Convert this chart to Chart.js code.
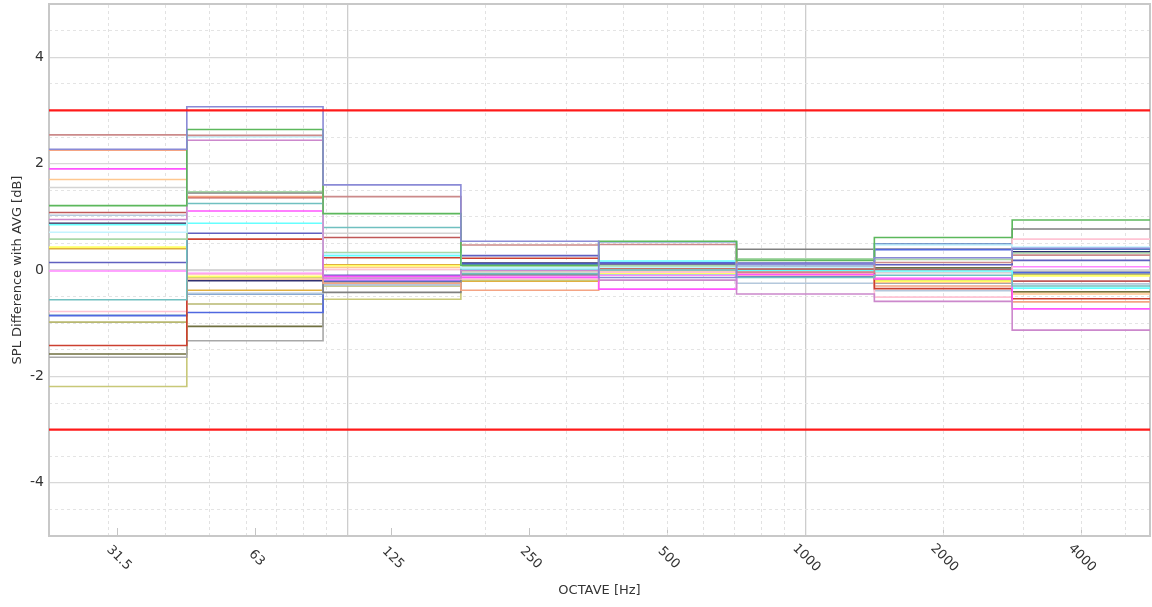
<!DOCTYPE html>
<html>
<head>
<meta charset="utf-8">
<script src="https://cdn.jsdelivr.net/npm/chart.js@4.4.1/dist/chart.umd.min.js"></script>
<style>
html,body{margin:0;padding:0;background:#ffffff;}
#wrap{width:1152px;height:607px;position:relative;}
</style>
</head>
<body>
<div id="wrap"><canvas id="c" width="1152" height="607"></canvas></div>
<script>
// ---- data ----
const bandCenters = [31.5, 63, 125, 250, 500, 1000, 2000, 4000];
const tickLabels = ['31.5', '63', '125', '250', '500', '1000', '2000', '4000'];
const yTickValues = [-4, -2, 0, 2, 4];
const xMajorGrid = [100, 1000];
const xMinorGrid = [30, 40, 50, 60, 70, 80, 90, 200, 300, 400, 500, 600, 700, 800, 900, 2000, 3000, 4000, 5000];
const limitValues = [3, -3];

const s01 = [2.27, 3.07, 1.60, 0.54, -0.14, 0.11, 0.23, 0.41];
const s02 = [1.21, 2.64, 1.06, 0.09, 0.54, 0.18, 0.61, 0.94];
const s03 = [2.54, 2.53, 1.38, 0.47, 0.48, -0.04, 0.14, 0.28];
const s04 = [0.95, 2.44, -0.15, -0.01, -0.19, -0.45, -0.59, -1.13];
const s05 = [0.71, 2.50, 0.30, 0.04, 0.05, 0.05, 0.47, 0.43];
const s06 = [0.58, 1.47, 0.33, 0.06, 0.08, 0.21, 0.20, 0.32];
const s07 = [-0.56, 1.25, 0.80, -0.07, 0.00, -0.14, -0.10, -0.30];
const s08 = [1.90, 1.11, -0.12, -0.14, -0.36, -0.08, -0.17, -0.73];
const s09 = [0.85, 0.88, 0.27, 0.02, 0.17, -0.01, -0.02, -0.34];
const s10 = [0.14, 0.69, -0.10, 0.27, 0.12, 0.13, 0.10, 0.18];
const s11 = [-1.42, 0.58, 0.23, 0.22, 0.03, 0.01, -0.35, -0.54];
const s12 = [1.55, -0.01, 0.69, -0.04, 0.00, -0.03, -0.05, -0.01];
const s13 = [-0.78, -0.08, 0.01, -0.17, -0.04, -0.05, -0.51, 0.58];
const s14 = [0.43, -0.12, 0.08, -0.03, -0.06, -0.07, -0.21, -0.11];
const s15 = [2.25, 1.38, -0.25, -0.38, 0.03, -0.02, -0.30, -0.60];
const s16 = [1.70, -0.17, 0.05, -0.06, -0.03, -0.09, -0.23, -0.45];
const s17 = [1.08, 1.36, 0.61, -0.05, -0.01, 0.03, 0.00, -0.21];
const s18 = [0.86, 1.45, -0.42, -0.09, 0.10, 0.39, 0.02, 0.77];
const s19 = [1.03, -0.44, -0.28, 0.03, -0.08, -0.25, -0.39, -0.26];
const s20 = [-0.02, -0.06, -0.18, -0.11, -0.10, -0.10, -0.15, 0.06];
const s21 = [-0.86, -0.80, -0.20, 0.11, 0.14, -0.11, 0.38, -0.05];
const s22 = [-0.98, -0.64, -0.30, -0.08, 0.06, -0.12, -0.19, -0.09];
const s23 = [-1.64, -1.33, -0.23, 0.00, 0.02, 0.00, -0.25, -0.03];
const s24 = [-2.19, -0.14, -0.55, -0.19, -0.05, -0.06, -0.20, -0.07];
const s25 = [-1.58, -1.06, -0.24, -0.02, 0.04, -0.13, 0.04, -0.41];
const s26 = [0.40, -0.38, 0.10, -0.21, -0.03, -0.04, -0.22, -0.41];
const s27 = [0.88, -0.20, -0.21, 0.13, 0.12, 0.05, 0.39, 0.34];
const s28 = [-0.85, -0.45, -0.18, 0.08, 0.53, 0.10, 0.49, 0.39];

const seriesValues = [s01, s02, s03, s04, s05, s06, s07, s08, s09, s10, s11, s12, s13, s14,
  s15, s16, s17, s18, s19, s20, s21, s22, s23, s24, s25, s26, s27, s28];

// ---- styles ----
const seriesColors = [
  '#8a8ad6', '#5cb85c', '#cc8a8a', '#cc88cc', '#c4f4ff', '#a8d8a8', '#70c0c0', '#ff55ff',
  '#66ffff', '#6060c0', '#cc4030', '#d4d4d4', '#ffc4d4', '#ffff66', '#f4a484', '#ffc890',
  '#c05858', '#808080', '#b4c8dc', '#ff88ff', '#5068e0', '#b8b870', '#a8a8a8', '#c8c878',
  '#707040', '#e0b040', '#303070', '#5080c0'
];

const xMin = bandCenters[0] / Math.SQRT2;
const xMax = bandCenters[bandCenters.length - 1] * Math.SQRT2;

function stepPoints(vals) {
  const pts = bandCenters.map((c, i) => ({ x: c / Math.SQRT2, y: vals[i] }));
  pts.push({ x: xMax, y: vals[vals.length - 1] });
  return pts;
}

const datasets = [];
limitValues.forEach((v, i) => {
  datasets.push({
    label: 'Limit ' + (i + 1),
    data: [{ x: xMin, y: v }, { x: xMax, y: v }],
    borderColor: '#ff1a1a',
    borderWidth: 2.2,
    pointRadius: 0,
    fill: false
  });
});
seriesValues.forEach((vals, i) => {
  datasets.push({
    label: 'S' + (i + 1),
    data: stepPoints(vals),
    borderColor: seriesColors[i],
    borderWidth: 1.6,
    pointRadius: 0,
    stepped: 'before',
    fill: false
  });
});

const FONT = 'DejaVu Sans';

const xLabelPlugin = {
  id: 'xLabels',
  afterDraw(chart) {
    const xs = chart.scales.x;
    const ctx = chart.ctx;
    ctx.save();
    ctx.font = '13px "' + FONT + '"';
    ctx.fillStyle = '#333333';
    ctx.textAlign = 'center';
    ctx.textBaseline = 'middle';
    bandCenters.forEach((c, i) => {
      const px = xs.getPixelForValue(c);
      ctx.save();
      ctx.translate(px + 1, xs.top + 22);
      ctx.rotate(Math.PI / 4);
      ctx.fillText(tickLabels[i], 0, 0);
      ctx.restore();
    });
    ctx.restore();
  }
};

const minorY = [];
for (let v = -4.5; v <= 4.5; v += 0.5) {
  if (Math.abs(v % 2) > 1e-9) minorY.push(v);
}

new Chart(document.getElementById('c'), {
  type: 'line',
  data: { datasets },
  plugins: [xLabelPlugin],
  options: {
    responsive: false,
    animation: false,
    devicePixelRatio: 1,
    layout: { padding: { left: 0, right: 2, top: 4, bottom: 0 } },
    plugins: { legend: { display: false }, tooltip: { enabled: false } },
    font: { family: FONT },
    scales: {
      x: {
        type: 'logarithmic', position: 'bottom', min: xMin, max: xMax,
        afterBuildTicks: s => { s.ticks = bandCenters.map(v => ({ value: v })); },
        afterFit: s => { s.height = 71; s.paddingLeft = 0; s.paddingRight = 0; },
        ticks: { display: false },
        grid: { drawOnChartArea: false, drawTicks: true, tickLength: -8, color: '#c4c4c4', tickColor: '#c4c4c4', lineWidth: 1 },
        border: { display: true, color: '#c8c8c8', width: 2 },
        title: { display: true, text: 'OCTAVE [Hz]', color: '#333333', font: { family: FONT, size: 13 }, padding: { top: 0, bottom: 9 } }
      },
      xMajor: {
        type: 'logarithmic', position: 'bottom', min: xMin, max: xMax,
        afterBuildTicks: s => { s.ticks = xMajorGrid.map(v => ({ value: v })); },
        afterFit: s => { s.height = 0; s.paddingLeft = 0; s.paddingRight = 0; },
        ticks: { display: false },
        grid: { drawTicks: false, color: '#cdcdcd', lineWidth: 1.3 },
        border: { display: false }
      },
      xMinor: {
        type: 'logarithmic', position: 'top', min: xMin, max: xMax,
        afterBuildTicks: s => { s.ticks = xMinorGrid.map(v => ({ value: v })); },
        afterFit: s => { s.height = 0; s.paddingLeft = 0; s.paddingRight = 0; },
        ticks: { display: false },
        grid: { drawTicks: false, color: '#e2e2e2', lineWidth: 1 },
        border: { display: true, color: '#c8c8c8', width: 2, dash: [3, 3] }
      },
      y: {
        type: 'linear', position: 'left', min: -5, max: 5,
        afterBuildTicks: s => { s.ticks = yTickValues.map(v => ({ value: v })); },
        afterFit: s => { s.width = 49; s.paddingTop = 0; s.paddingBottom = 0; },
        ticks: { color: '#333333', font: { family: FONT, size: 14 }, padding: 5 },
        grid: { drawTicks: false, color: '#d8d8d8', lineWidth: 1.3 },
        border: { display: true, color: '#c8c8c8', width: 2 },
        title: { display: true, text: 'SPL Difference with AVG [dB]', color: '#333333', font: { family: FONT, size: 13 }, padding: { top: 10, bottom: 0 } }
      },
      yMinor: {
        type: 'linear', position: 'right', min: -5, max: 5,
        afterBuildTicks: s => { s.ticks = minorY.map(v => ({ value: v })); },
        afterFit: s => { s.width = 0; s.paddingTop = 0; s.paddingBottom = 0; },
        ticks: { display: false },
        grid: { drawTicks: false, color: '#e4e4e4', lineWidth: 1 },
        border: { display: true, color: '#c8c8c8', width: 2, dash: [3, 3] }
      }
    }
  }
});
</script>
</body>
</html>
